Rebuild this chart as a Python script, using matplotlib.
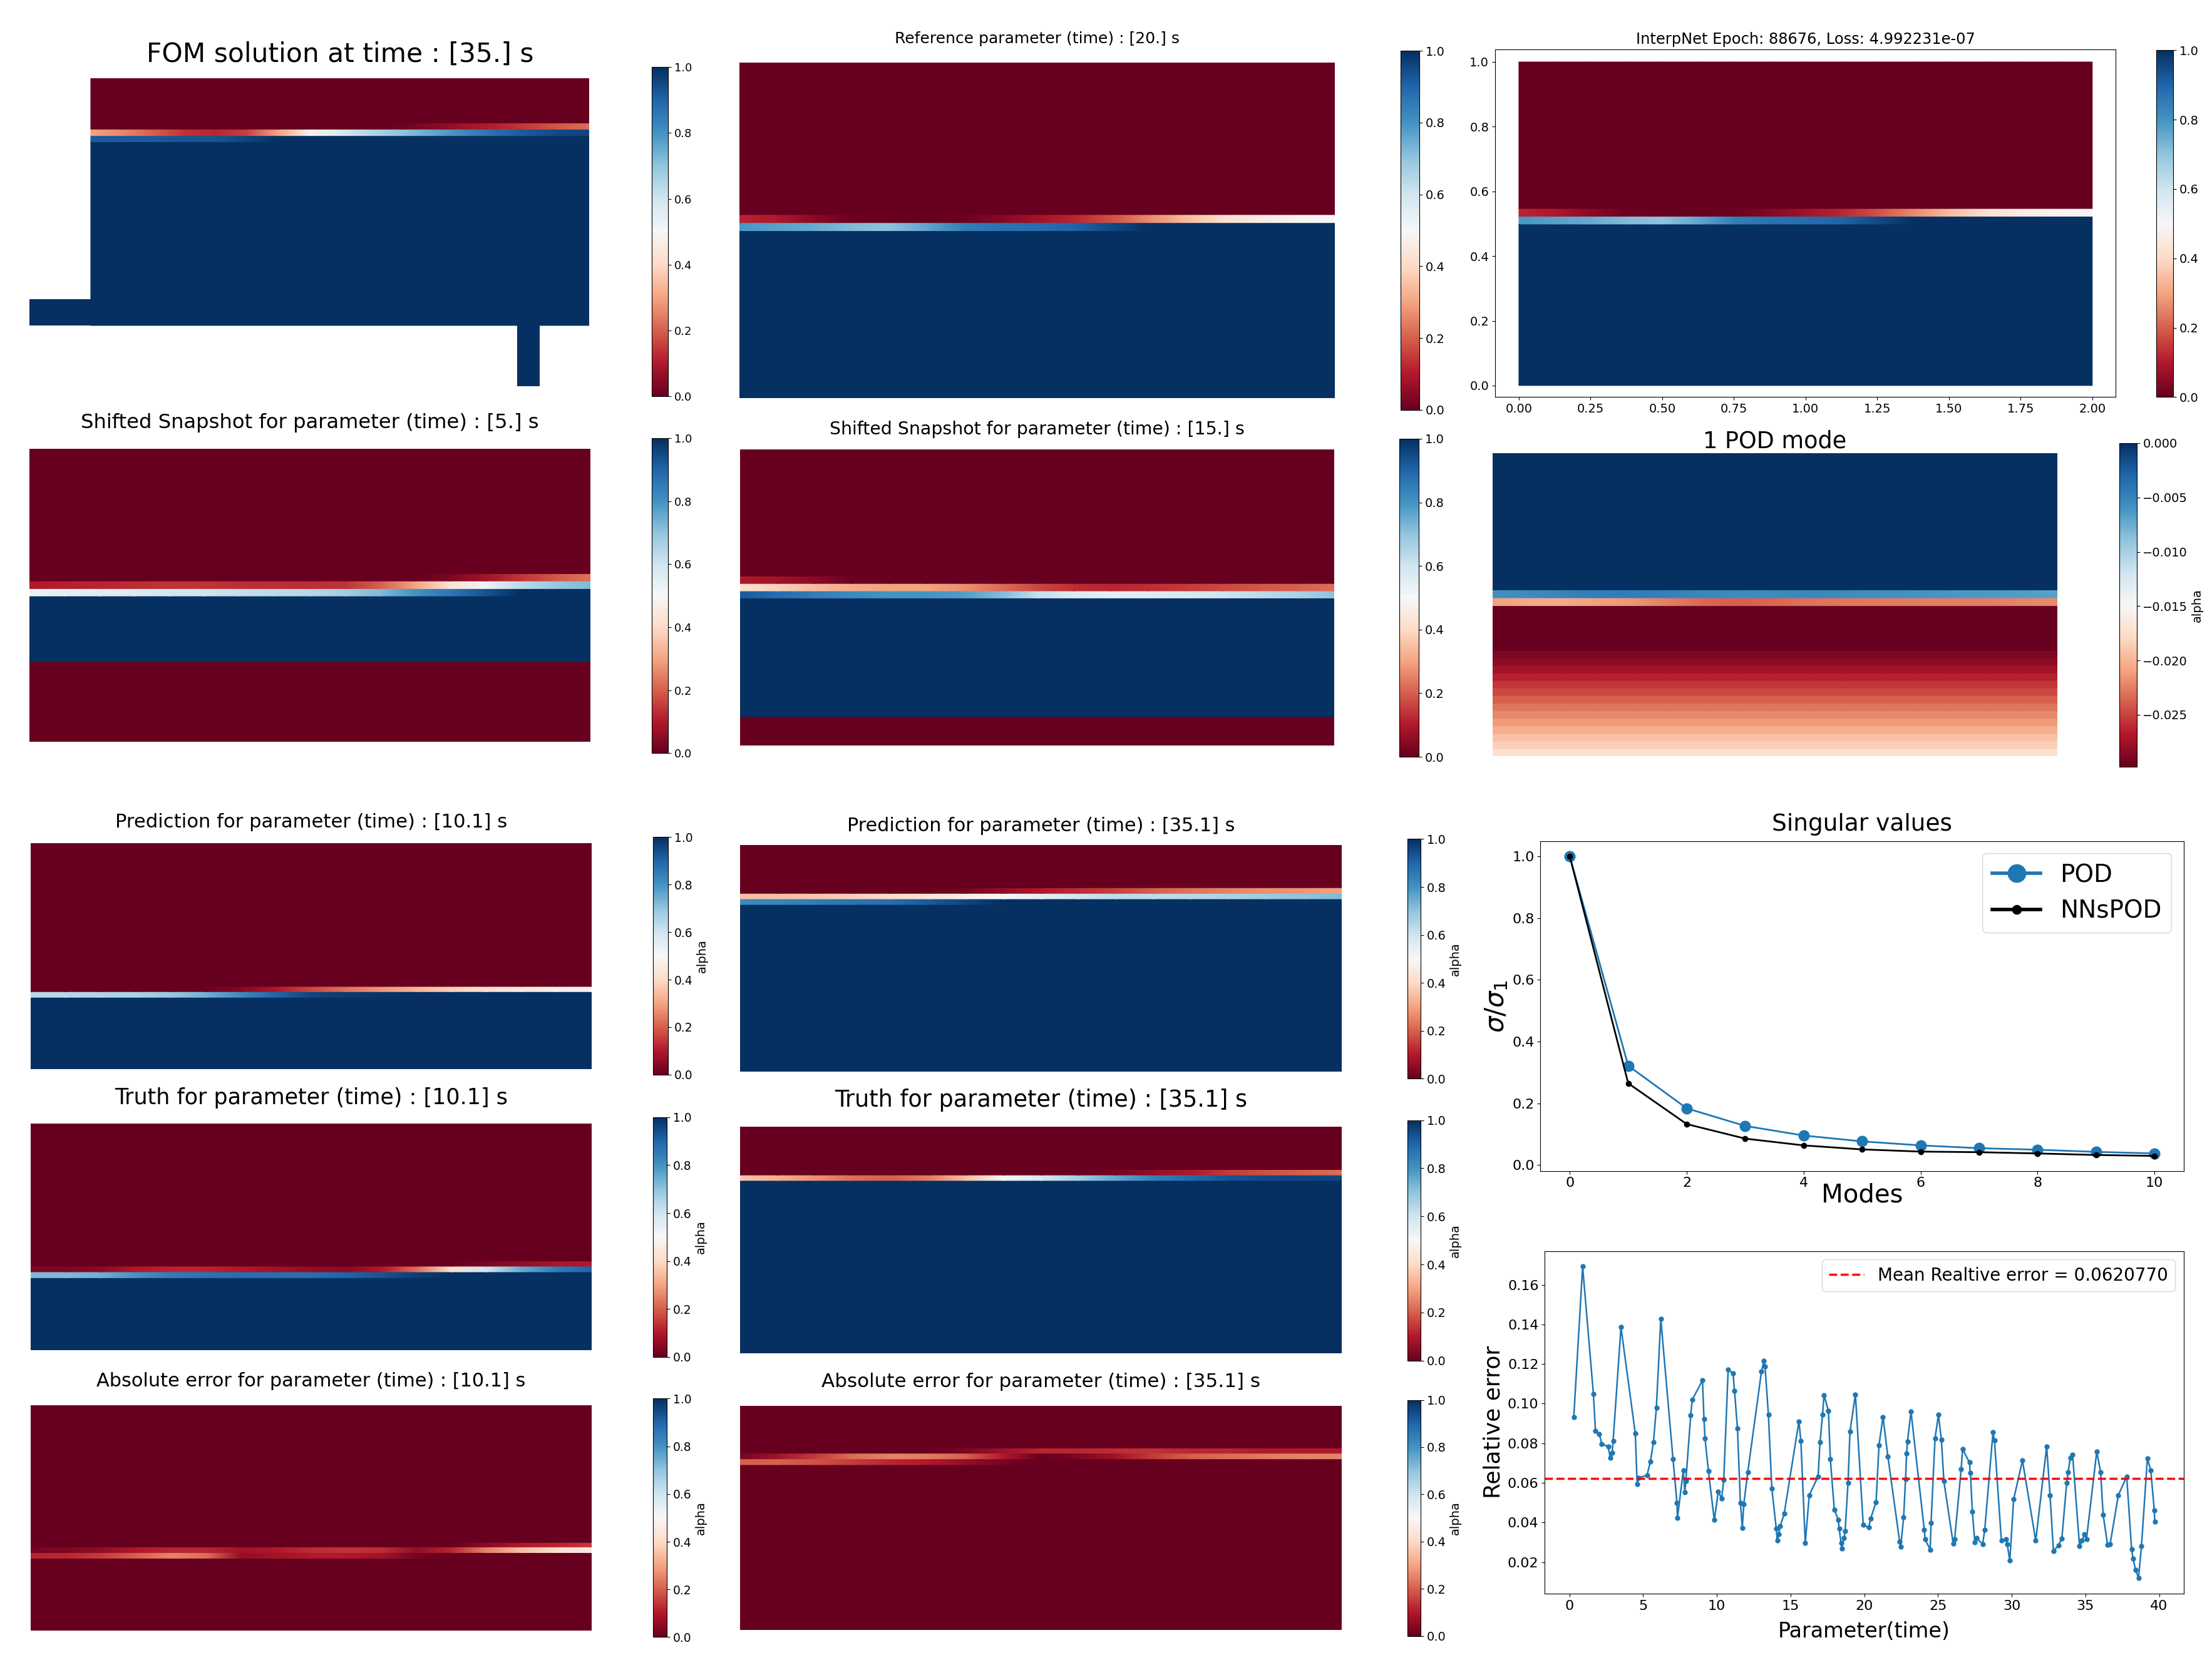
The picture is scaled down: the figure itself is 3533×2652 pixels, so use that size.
import numpy as np
import matplotlib
matplotlib.use('Agg')
import matplotlib.pyplot as plt

# ---------------- data ----------------
modes = np.arange(11)
sv_pod = [1.0, 0.322, 0.184, 0.127, 0.096, 0.077, 0.064, 0.055, 0.050, 0.043, 0.038]
sv_nnspod = [1.0, 0.265, 0.133, 0.086, 0.064, 0.051, 0.044, 0.042, 0.038, 0.033, 0.030]

err_t = [0.3, 0.9, 1.63, 1.77, 2.03, 2.2, 2.63, 2.77, 2.9, 2.97, 3.5, 4.47, 4.6, 4.7, 5.27,
         5.5, 5.7, 5.9, 6.2, 7.03, 7.3, 7.33, 7.73, 7.83, 7.9, 8.23, 8.33, 9.03, 9.13, 9.2,
         9.43, 9.83, 10.1, 10.33, 10.47, 10.77, 11.1, 11.2, 11.4, 11.6, 11.73, 11.83, 12.1,
         13.03, 13.2, 13.27, 13.5, 13.73, 14.03, 14.1, 14.2, 14.3, 14.57, 15.57, 15.7, 16.0,
         16.27, 16.87, 17.0, 17.17, 17.27, 17.57, 17.7, 17.97, 18.23, 18.3, 18.43, 18.47,
         18.63, 18.7, 18.9, 19.03, 19.4, 19.93, 20.3, 20.43, 20.8, 21.0, 21.27, 21.6, 22.4,
         22.47, 22.67, 22.8, 22.87, 22.93, 23.17, 24.07, 24.13, 24.47, 24.53, 24.8, 25.03,
         25.23, 25.4, 26.03, 26.13, 26.57, 26.67, 27.13, 27.2, 27.33, 27.5, 27.6, 28.03,
         28.17, 28.73, 28.83, 29.3, 29.6, 29.7, 29.87, 30.13, 30.73, 31.63, 32.37, 32.6,
         32.83, 33.17, 33.4, 33.73, 33.83, 33.97, 34.13, 34.6, 34.77, 34.93, 35.07, 35.77,
         36.03, 36.2, 36.5, 36.67, 37.23, 37.8, 38.13, 38.23, 38.4, 38.6, 38.8, 39.2, 39.43,
         39.67, 39.7]
err_rel = [0.0932, 0.1692, 0.105, 0.0862, 0.0846, 0.0797, 0.0783, 0.0727, 0.0752, 0.0813,
           0.1386, 0.085, 0.0594, 0.0625, 0.0639, 0.0709, 0.0804, 0.0978, 0.1428, 0.0720,
           0.0499, 0.0422, 0.0664, 0.0552, 0.0611, 0.0941, 0.1019, 0.1118, 0.0921, 0.0825,
           0.0660, 0.0412, 0.0555, 0.0521, 0.0615, 0.1171, 0.1153, 0.1065, 0.0876, 0.0500,
           0.0373, 0.0493, 0.0654, 0.1163, 0.1216, 0.1188, 0.0943, 0.0573, 0.0370, 0.0308,
           0.0340, 0.0382, 0.0444, 0.0911, 0.0813, 0.0296, 0.0538, 0.0632, 0.0804, 0.0943,
           0.1043, 0.0963, 0.0720, 0.0465, 0.0415, 0.0368, 0.0296, 0.0268, 0.0323, 0.0356,
           0.0601, 0.0859, 0.1047, 0.0387, 0.0375, 0.0419, 0.0503, 0.0790, 0.0933, 0.0734,
           0.0303, 0.0277, 0.0426, 0.0619, 0.0748, 0.0809, 0.0960, 0.0363, 0.0315, 0.0263,
           0.0398, 0.0825, 0.0943, 0.0818, 0.0608, 0.0294, 0.0315, 0.0668, 0.0771, 0.0703,
           0.0650, 0.0454, 0.0300, 0.0322, 0.0291, 0.0363, 0.0855, 0.0815, 0.0308, 0.0315,
           0.0289, 0.0207, 0.0517, 0.0713, 0.0308, 0.0783, 0.0538, 0.0256, 0.0284, 0.0320,
           0.0601, 0.0653, 0.0727, 0.0741, 0.0280, 0.0308, 0.0340, 0.0315, 0.0759, 0.0653,
           0.0440, 0.0287, 0.0289, 0.0538, 0.0632, 0.0264, 0.0217, 0.0161, 0.0119, 0.0280,
           0.0723, 0.0664, 0.0461, 0.0405]
err_mean = 0.0620770

fom_time = 35.
ref_time = 20.
shift_times = [5., 15.]
test_times = [10.1, 35.1]
interp_epoch = 88676
interp_loss = 4.992231e-07

# alpha along the interface cells, sampled at 17 stations over x in [0, 2]
xs = np.linspace(0, 2, 17)

fom_edges = [0.0, 0.743, 0.768, 0.794, 0.819, 1.0]
fom_a = [0, 0, 0, 0, 0, 0, 0, 0, 0, 0, 0.01, 0.04, 0.08, 0.11, 0.15, 0.19, 0.22]
fom_b = [0.30, 0.26, 0.20, 0.14, 0.12, 0.16, 0.30, 0.48, 0.57, 0.65, 0.70, 0.76, 0.82, 0.88, 0.92, 0.95, 0.96]
fom_c = [0.92, 0.92, 0.92, 0.93, 0.93, 0.96, 1, 1, 1, 1, 1, 1, 1, 1, 1, 1, 1]

ref_edges = [0.0, 0.499, 0.523, 0.547, 1.0]
ref_a = [0.12, 0.10, 0.05, 0.01, 0, 0, 0.01, 0.04, 0.08, 0.12, 0.18, 0.26, 0.34, 0.42, 0.46, 0.49, 0.50]
ref_b = [0.79, 0.77, 0.75, 0.72, 0.70, 0.76, 0.84, 0.87, 0.88, 0.90, 0.95, 1, 1, 1, 1, 1, 1]

s5_edges = [0.0, 0.274, 0.498, 0.523, 0.549, 0.574, 1.0]
s5_a = [0, 0, 0, 0, 0, 0, 0, 0, 0, 0, 0, 0, 0.03, 0.08, 0.14, 0.19, 0.23]
s5_b = [0.10, 0.11, 0.12, 0.13, 0.14, 0.14, 0.13, 0.13, 0.13, 0.14, 0.20, 0.30, 0.43, 0.52, 0.63, 0.69, 0.72]
s5_c = [0.52, 0.54, 0.56, 0.57, 0.59, 0.60, 0.62, 0.63, 0.64, 0.67, 0.72, 0.80, 0.86, 0.93, 1, 1, 1]

s15_edges = [0.0, 0.098, 0.498, 0.522, 0.547, 0.572, 1.0]
s15_a = [0.10, 0.08, 0.05, 0.01, 0, 0, 0, 0, 0, 0, 0, 0, 0, 0, 0, 0, 0]
s15_b = [0.42, 0.38, 0.34, 0.31, 0.30, 0.30, 0.27, 0.22, 0.17, 0.13, 0.12, 0.13, 0.15, 0.17, 0.19, 0.20, 0.22]
s15_c = [0.92, 0.88, 0.85, 0.82, 0.80, 0.80, 0.78, 0.72, 0.62, 0.57, 0.55, 0.56, 0.58, 0.60, 0.63, 0.66, 0.70]

# first POD mode: stripes below the interface, bottom to top
pod_edges = [0.0, 0.025, 0.05, 0.075, 0.1, 0.125, 0.15, 0.175, 0.2, 0.225, 0.25, 0.275,
             0.3, 0.325, 0.349, 0.497, 0.523, 0.549, 1.0]
pod_stripes = [-0.0173, -0.0185, -0.0194, -0.0203, -0.0212, -0.0221, -0.0229, -0.0238,
               -0.0247, -0.0256, -0.0265, -0.0274, -0.0283, -0.0289]
pod_deep = -0.0297
pod_b = [-0.021, -0.0205, -0.0205, -0.021, -0.0215, -0.0225, -0.0235, -0.0238, -0.0235,
         -0.023, -0.0228, -0.0226, -0.0225, -0.0225, -0.0225, -0.0222, -0.022]
pod_a = [-0.0058, -0.0055, -0.005, -0.0045, -0.0045, -0.0048, -0.0052, -0.0055, -0.0055,
         -0.0052, -0.0055, -0.0058, -0.006, -0.0062, -0.0064, -0.0066, -0.0068]
pod_top = -0.0001

p10_edges = [0.0, 0.318, 0.343, 0.366, 1.0]
p10_a = [0, 0, 0, 0, 0, 0, 0.04, 0.10, 0.17, 0.23, 0.28, 0.33, 0.38, 0.42, 0.45, 0.47, 0.48]
p10_b = [0.64, 0.64, 0.65, 0.66, 0.69, 0.74, 0.82, 0.90, 0.96, 0.98, 0.99, 1, 1, 1, 1, 1, 1]

p35_edges = [0.0, 0.737, 0.762, 0.786, 0.811, 1.0]
p35_a = [0, 0, 0, 0, 0, 0, 0.02, 0.06, 0.10, 0.13, 0.16, 0.20, 0.23, 0.25, 0.27, 0.28, 0.30]
p35_b = [0.35, 0.35, 0.36, 0.38, 0.40, 0.43, 0.47, 0.50, 0.55, 0.60, 0.63, 0.63, 0.64, 0.66, 0.68, 0.70, 0.72]
p35_c = [0.82, 0.83, 0.85, 0.87, 0.88, 0.92, 0.96, 1, 1, 1, 1, 1, 1, 1, 1, 1, 1]

t10_edges = [0.0, 0.319, 0.345, 0.370, 0.393, 1.0]
t10_a = [0, 0, 0, 0, 0, 0, 0, 0, 0, 0, 0, 0, 0, 0.03, 0.06, 0.09, 0.10]
t10_b = [0.03, 0.03, 0.05, 0.10, 0.12, 0.12, 0.10, 0.08, 0.06, 0.05, 0.10, 0.22, 0.42, 0.60, 0.75, 0.85, 0.90]
t10_c = [0.72, 0.72, 0.74, 0.80, 0.85, 0.87, 0.88, 0.88, 0.88, 0.90, 0.93, 0.97, 1, 1, 1, 1, 1]

t35_edges = [0.0, 0.763, 0.787, 0.811, 1.0]
t35_a = [0, 0, 0, 0, 0, 0, 0, 0, 0, 0, 0.02, 0.06, 0.10, 0.15, 0.18, 0.20, 0.22]
t35_b = [0.36, 0.32, 0.27, 0.22, 0.20, 0.24, 0.35, 0.50, 0.58, 0.67, 0.76, 0.84, 0.89, 0.93, 0.95, 0.96, 0.96]

ae10_edges = [0.0, 0.32, 0.345, 0.37, 0.39, 1.0]
ae10_a = [0, 0, 0, 0, 0, 0, 0, 0, 0, 0, 0, 0, 0, 0.05, 0.10, 0.12, 0.15]
ae10_b = [0.02, 0.03, 0.06, 0.10, 0.12, 0.12, 0.08, 0.10, 0.13, 0.14, 0.13, 0.06, 0.12, 0.25, 0.35, 0.42, 0.45]
ae10_c = [0.12, 0.12, 0.15, 0.20, 0.25, 0.22, 0.06, 0.08, 0.10, 0.10, 0.08, 0.02, 0, 0, 0, 0, 0]

ae35_edges = [0.0, 0.737, 0.763, 0.788, 0.811, 1.0]
ae35_a = [0, 0, 0, 0, 0, 0, 0.03, 0.08, 0.12, 0.12, 0.13, 0.14, 0.12, 0.12, 0.10, 0.10, 0.10]
ae35_b = [0.02, 0.08, 0.15, 0.22, 0.25, 0.24, 0.20, 0.10, 0.0, 0.03, 0.08, 0.15, 0.20, 0.22, 0.24, 0.25, 0.25]
ae35_c = [0.20, 0.20, 0.18, 0.15, 0.12, 0.10, 0.06, 0.02, 0, 0, 0, 0, 0, 0, 0, 0, 0]

# ---------------- figure ----------------
fig = plt.figure(figsize=(35.33, 26.52), dpi=100)
GW, GH = 1568.0, 1177.0


def rect(x0, y0, x1, y1):
    return [x0 / GW, 1 - y1 / GH, (x1 - x0) / GW, (y1 - y0) / GH]


def band_mesh(edges, rows):
    X, Y, C = [], [], []
    for i, r in enumerate(rows):
        vals = np.broadcast_to(np.asarray(r, float), xs.shape)
        for y in (edges[i], edges[i + 1]):
            X.append(xs)
            Y.append(np.full(xs.shape, y))
            C.append(vals)
    return np.array(X), np.array(Y), np.array(C)


def add_cbar(m, cpos, label=None, size=14, ticks=None):
    cax = fig.add_axes(rect(*cpos))
    cb = fig.colorbar(m, cax=cax, ticks=ticks)
    cb.ax.tick_params(labelsize=size)
    if label:
        cb.set_label(label, fontsize=14)
    return cb


def field(pos, edges, rows, title, tsize, tpad, cpos, label=None,
          vmin=0, vmax=1, ticks=None, csize=14):
    ax = fig.add_axes(rect(*pos))
    X, Y, C = band_mesh(edges, rows)
    m = ax.pcolormesh(X, Y, C, shading='gouraud', cmap='RdBu', vmin=vmin, vmax=vmax)
    ax.set_xlim(0, 2)
    ax.set_ylim(0, 1)
    ax.axis('off')
    ax.set_title(title, fontsize=tsize, pad=tpad)
    add_cbar(m, cpos, label, csize, ticks)
    return ax


# FOM solution with inlet and outlet
ax = fig.add_axes(rect(20.7, 55.5, 417.7, 273.7))
X, Y, C = band_mesh(fom_edges, [1.0, fom_c, fom_b, fom_a, 0.0])
m = ax.pcolormesh(X, Y, C, shading='gouraud', cmap='RdBu', vmin=0, vmax=1)
ax.pcolormesh([-0.247, 0.0], [0.0, 0.107], [[1.0]], cmap='RdBu', vmin=0, vmax=1)
ax.pcolormesh([1.711, 1.800], [-0.245, 0.0], [[1.0]], cmap='RdBu', vmin=0, vmax=1)
ax.set_xlim(-0.247, 2.0)
ax.set_ylim(-0.245, 1.0)
ax.axis('off')
ax.set_title(f'FOM solution at time : {np.array([fom_time])} s', fontsize=30.5, pad=19, x=0.555)
add_cbar(m, (461.8, 47.6, 473.5, 281), size=13)

field((524, 44.3, 946.2, 282.4), ref_edges, [1.0, ref_b, ref_a, 0.0],
      f'Reference parameter (time) : {np.array([ref_time])} s', 18, 22,
      (992.7, 36, 1006.3, 290.6))

# InterpNet output, framed with ticks
ax = fig.add_axes(rect(1059.8, 35.2, 1499.8, 281.6))
X, Y, C = band_mesh(ref_edges, [1.0, ref_b, ref_a, 0.0])
m = ax.pcolormesh(X, Y, C, shading='gouraud', cmap='RdBu', vmin=0, vmax=1)
ax.set_xlim(-0.083, 2.082)
ax.set_ylim(-0.036, 1.038)
ax.set_xticks(np.arange(0, 2.01, 0.25))
ax.set_yticks(np.arange(0, 1.01, 0.2))
ax.tick_params(labelsize=14)
ax.set_title(f'InterpNet Epoch: {interp_epoch}, Loss: {interp_loss:e}', fontsize=17.4, pad=7)
add_cbar(m, (1528.5, 35.6, 1540.5, 281.6))

field((20.7, 318.2, 418.5, 526.1), s5_edges, [0.0, 1.0, s5_c, s5_b, s5_a, 0.0],
      f'Shifted Snapshot for parameter (time) : {np.array([shift_times[0]])} s', 23.2, 24,
      (461.8, 310.8, 473.5, 534), csize=13)
field((524.6, 318.5, 945.8, 528.7), s15_edges, [0.0, 1.0, s15_c, s15_b, s15_a, 0.0],
      f'Shifted Snapshot for parameter (time) : {np.array([shift_times[1]])} s', 20.4, 17,
      (992, 311.1, 1005.6, 536.6))

pod_rows = pod_stripes + [pod_deep, pod_b, pod_a, pod_top]
field((1058.1, 321.4, 1458.4, 536.2), pod_edges, pod_rows, '1 POD mode', 26.4, 6.6,
      (1502.4, 314.2, 1514.6, 543.8), label='alpha', vmin=-0.0298, vmax=0.0,
      ticks=[0.0, -0.005, -0.010, -0.015, -0.020, -0.025])

field((21.7, 598, 419.5, 758), p10_edges, [1.0, p10_b, p10_a, 0.0],
      f'Prediction for parameter (time) : {np.array([test_times[0]])} s', 22.1, 18,
      (463, 593.5, 473.5, 762), label='alpha', csize=13.5)
field((524.6, 599, 951.3, 760), p35_edges, [1.0, p35_c, p35_b, p35_a, 0.0],
      f'Prediction for parameter (time) : {np.array([test_times[1]])} s', 21.8, 15.3,
      (997.7, 594.9, 1006.9, 764.9), label='alpha')
field((21.7, 796.8, 419.5, 957.1), t10_edges, [1.0, t10_c, t10_b, t10_a, 0.0],
      f'Truth for parameter (time) : {np.array([test_times[0]])} s', 25.1, 22.7,
      (462.8, 792.2, 472.8, 962), label='alpha', csize=13.5)
field((524.6, 798.9, 951.3, 959.6), t35_edges, [1.0, t35_b, t35_a, 0.0],
      f'Truth for parameter (time) : {np.array([test_times[1]])} s', 26.3, 22.8,
      (997.7, 794.3, 1006.9, 964.7), label='alpha')
field((21.7, 996.2, 419.5, 1156), ae10_edges, [0.0, ae10_c, ae10_b, ae10_a, 0.0],
      f'Absolute error for parameter (time) : {np.array([test_times[0]])} s', 21.9, 21.4,
      (462.8, 991.6, 472.8, 1160.8), label='alpha', csize=13.5)
field((524.6, 996.7, 951.3, 1155.7), ae35_edges, [0.0, ae35_c, ae35_b, ae35_a, 0.0],
      f'Absolute error for parameter (time) : {np.array([test_times[1]])} s', 22.3, 21.5,
      (997.7, 992.6, 1006.9, 1160.1), label='alpha')

# singular values
ax = fig.add_axes(rect(1092, 596.5, 1548, 830.2))
ax.plot(modes, sv_pod, 'o-', color='#1f77b4', lw=2, ms=12, label='POD')
ax.plot(modes, sv_nnspod, 'o-', color='k', lw=2, ms=6, label='NNsPOD')
ax.set_xticks(range(0, 11, 2))
ax.tick_params(labelsize=16)
ax.set_title('Singular values', fontsize=27, pad=12)
ax.set_xlabel('Modes', fontsize=29)
ax.xaxis.set_label_coords(0.5, -0.035)
ax.set_ylabel(r'$\sigma/\sigma_1$', fontsize=30, labelpad=3)
leg = ax.legend(loc='upper right', fontsize=28, markerscale=1.7)
for line in leg.get_lines():
    line.set_linewidth(4)

# relative error over the parameter
ax = fig.add_axes(rect(1095, 887, 1548, 1130))
ax.plot(err_t, err_rel, '.-', color='#1f77b4', lw=1.8, ms=10)
ax.axhline(err_mean, color='r', ls='--', lw=2.5,
           label=f'Mean Realtive error = {err_mean:.7f}')
ax.set_xticks(range(0, 41, 5))
ax.tick_params(labelsize=16)
ax.set_xlabel('Parameter(time)', fontsize=24, labelpad=10)
ax.set_ylabel('Relative error', fontsize=26)
ax.legend(loc='upper right', fontsize=20)

fig.savefig('out.png', dpi=100)
